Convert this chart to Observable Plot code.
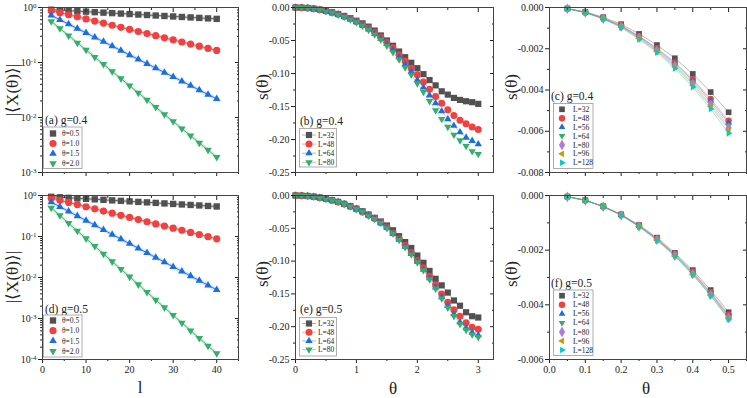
<!DOCTYPE html>
<html><head><meta charset="utf-8">
<script src="https://cdn.jsdelivr.net/npm/d3@7"></script>
<script src="https://cdn.jsdelivr.net/npm/@observablehq/plot@0.6"></script>
<style>
body{margin:0;background:#fff;}
#wrap{position:relative;width:747px;height:398px;font-family:"Liberation Serif","Times New Roman",serif;overflow:hidden;color:#222}
.pan{position:absolute}
.pan svg{overflow:visible;background:transparent}
.lab{position:absolute;font-size:17px;color:#222;white-space:nowrap;line-height:1}
</style></head><body><div id="wrap"></div><script>
// ---------- DATA ----------
const lVals = [2,4,6,8,10,12,14,16,18,20,22,24,26,28,30,32,34,36,38,40];
const thetaNames = ["θ=0.5","θ=1.0","θ=1.5","θ=2.0"];
const a_t05 = [0.910,0.892,0.874,0.857,0.840,0.823,0.807,0.791,0.775,0.760,0.745,0.730,0.715,0.701,0.687,0.673,0.660,0.647,0.634,0.621];
const a_t10 = [0.880,0.806,0.738,0.676,0.619,0.567,0.520,0.476,0.436,0.399,0.366,0.335,0.307,0.281,0.258,0.236,0.216,0.198,0.181,0.166];
const a_t15 = [0.720,0.599,0.498,0.415,0.345,0.287,0.239,0.199,0.165,0.137,0.114,0.0951,0.0791,0.0658,0.0548,0.0456,0.0379,0.0315,0.0262,0.0218];
const a_t20 = [0.560,0.415,0.308,0.228,0.169,0.125,0.0929,0.0689,0.0511,0.0379,0.0281,0.0208,0.0154,0.0114,0.00848,0.00629,0.00466,0.00345,0.00256,0.00190];
const d_t05 = [0.930,0.904,0.878,0.853,0.829,0.806,0.783,0.761,0.740,0.719,0.698,0.679,0.660,0.641,0.623,0.605,0.588,0.572,0.556,0.540];
const d_t10 = [0.860,0.763,0.676,0.600,0.532,0.472,0.418,0.371,0.329,0.292,0.259,0.229,0.203,0.180,0.160,0.142,0.126,0.112,0.0991,0.0879];
const d_t15 = [0.690,0.532,0.411,0.317,0.245,0.189,0.146,0.112,0.0866,0.0668,0.0516,0.0398,0.0307,0.0237,0.0183,0.0141,0.0109,0.00839,0.00647,0.00500];
const d_t20 = [0.500,0.325,0.211,0.137,0.0892,0.0580,0.0377,0.0245,0.0159,0.0104,0.00673,0.00438,0.00284,0.00185,0.00120,0.000781,0.000508,0.000330,0.000215,0.000140];

const thetaB = [0,0.1,0.2,0.3,0.4,0.5,0.6,0.7,0.8,0.9,1.0,1.1,1.2,1.3,1.4,1.5,1.6,1.7,1.8,1.9,2.0,2.1,2.2,2.3,2.4,2.5,2.6,2.7,2.8,2.9,3.0];
const L4Names = ["L=32","L=48","L=64","L=80"];
const b_L32 = [0,-0.0002,-0.0008,-0.0018,-0.0032,-0.005,-0.0072,-0.0098,-0.0128,-0.0162,-0.020,-0.024,-0.029,-0.035,-0.0424,-0.050,-0.058,-0.0667,-0.0753,-0.0838,-0.092,-0.101,-0.110,-0.118,-0.127,-0.132,-0.137,-0.140,-0.142,-0.1435,-0.146];
const b_L48 = [0,-0.0002,-0.0009,-0.0019,-0.0034,-0.0053,-0.0077,-0.0104,-0.0136,-0.0172,-0.0212,-0.026,-0.031,-0.038,-0.045,-0.0525,-0.061,-0.0717,-0.081,-0.092,-0.102,-0.113,-0.124,-0.135,-0.145,-0.155,-0.1636,-0.171,-0.176,-0.181,-0.185];
const b_L64 = [0,-0.0002,-0.0009,-0.002,-0.0035,-0.0055,-0.0079,-0.0107,-0.014,-0.0177,-0.022,-0.027,-0.033,-0.040,-0.047,-0.055,-0.064,-0.075,-0.086,-0.097,-0.110,-0.121,-0.133,-0.145,-0.157,-0.169,-0.179,-0.189,-0.197,-0.202,-0.207];
const b_L80 = [0,-0.0002,-0.0009,-0.002,-0.0036,-0.0056,-0.0081,-0.011,-0.0144,-0.0183,-0.0227,-0.028,-0.034,-0.041,-0.049,-0.058,-0.068,-0.079,-0.091,-0.102,-0.115,-0.128,-0.142,-0.156,-0.169,-0.181,-0.193,-0.2015,-0.210,-0.218,-0.222];
const e_L32 = [0,-0.0002,-0.0008,-0.0018,-0.0032,-0.005,-0.0072,-0.0098,-0.0128,-0.0162,-0.020,-0.024,-0.029,-0.034,-0.0396,-0.0457,-0.053,-0.062,-0.071,-0.080,-0.0915,-0.1026,-0.115,-0.127,-0.137,-0.148,-0.160,-0.168,-0.178,-0.184,-0.186];
const e_L48 = [0,-0.0002,-0.0008,-0.0018,-0.0033,-0.0051,-0.0074,-0.0100,-0.0131,-0.0166,-0.0205,-0.025,-0.030,-0.035,-0.041,-0.048,-0.057,-0.066,-0.076,-0.087,-0.099,-0.110,-0.123,-0.136,-0.150,-0.1626,-0.174,-0.184,-0.194,-0.201,-0.204];
const e_L64 = [0,-0.0002,-0.0008,-0.0018,-0.0033,-0.0052,-0.0075,-0.0101,-0.0132,-0.0167,-0.0207,-0.025,-0.030,-0.035,-0.042,-0.049,-0.058,-0.067,-0.078,-0.089,-0.101,-0.113,-0.126,-0.140,-0.155,-0.168,-0.181,-0.193,-0.202,-0.209,-0.213];
const e_L80 = [0,-0.0002,-0.0008,-0.0019,-0.0033,-0.0052,-0.0075,-0.0102,-0.0133,-0.0168,-0.0208,-0.025,-0.031,-0.036,-0.042,-0.050,-0.058,-0.068,-0.079,-0.090,-0.102,-0.114,-0.128,-0.142,-0.157,-0.171,-0.184,-0.196,-0.205,-0.212,-0.216];

const thetaC = [0.05,0.10,0.15,0.20,0.25,0.30,0.35,0.40,0.45,0.50];
const L7Names = ["L=32","L=48","L=56","L=64","L=80","L=96","L=128"];
const c_L32  = [-0.00005,-0.00021,-0.00047,-0.00081,-0.00128,-0.00182,-0.00246,-0.00322,-0.00410,-0.00508];
const c_L48  = [-0.00005,-0.00023,-0.00051,-0.00087,-0.00138,-0.00197,-0.00266,-0.00348,-0.00443,-0.00549];
const c_L56  = [-0.00006,-0.00023,-0.00052,-0.00089,-0.00141,-0.00200,-0.00271,-0.00354,-0.00451,-0.00559];
const c_L64  = [-0.00006,-0.00024,-0.00053,-0.00091,-0.00144,-0.00205,-0.00277,-0.00362,-0.00461,-0.00572];
const c_L80  = [-0.00006,-0.00024,-0.00054,-0.00093,-0.00147,-0.00209,-0.00283,-0.00370,-0.00472,-0.00584];
const c_L96  = [-0.00006,-0.00025,-0.00055,-0.00095,-0.00150,-0.00213,-0.00288,-0.00377,-0.00480,-0.00594];
const c_L128 = [-0.00006,-0.00025,-0.00056,-0.00097,-0.00154,-0.00218,-0.00295,-0.00386,-0.00492,-0.00610];
const f_L32  = [-0.00004,-0.00017,-0.00039,-0.00069,-0.00108,-0.00154,-0.00210,-0.00273,-0.00346,-0.00427];
const f_L48  = [-0.00004,-0.00017,-0.00040,-0.00070,-0.00110,-0.00157,-0.00214,-0.00279,-0.00353,-0.00436];
const f_L56  = [-0.00004,-0.00018,-0.00040,-0.00071,-0.00111,-0.00159,-0.00216,-0.00282,-0.00357,-0.00441];
const f_L64  = [-0.00004,-0.00018,-0.00040,-0.00071,-0.00112,-0.00160,-0.00218,-0.00284,-0.00360,-0.00444];
const f_L80  = [-0.00005,-0.00018,-0.00041,-0.00072,-0.00113,-0.00162,-0.00220,-0.00287,-0.00363,-0.00448];
const f_L96  = [-0.00005,-0.00018,-0.00041,-0.00072,-0.00113,-0.00163,-0.00221,-0.00289,-0.00365,-0.00451];
const f_L128 = [-0.00005,-0.00018,-0.00041,-0.00073,-0.00114,-0.00164,-0.00222,-0.00290,-0.00367,-0.00453];

// tick values
const xTicksL = [0,10,20,30,40], xMinorL = [5,15,25,35,45];
const xTicksB = [0,1,2,3], xMinorB = [0.5,1.5,2.5];
const xTicksC = [0,0.1,0.2,0.3,0.4,0.5], xMinorC = [0.05,0.15,0.25,0.35,0.45,0.55];
const yTicksB = [0,-0.05,-0.10,-0.15,-0.20,-0.25], yMinorB = [-0.025,-0.075,-0.125,-0.175,-0.225];
const yTicksC = [0,-0.002,-0.004,-0.006,-0.008], yMinorC = [-0.001,-0.003,-0.005,-0.007];
const yTicksF = [0,-0.002,-0.004,-0.006], yMinorF = [-0.001,-0.003,-0.005];
const logTicksA = [1,0.1,0.01,0.001];
const logTicksD = [1,0.1,0.01,0.001,0.0001];

// ---------- STYLE ----------
const COLORS = ["#515151","#F14040","#1A6FDF","#37AD6B","#B177DE","#CC9900","#00CBCC"];
const sqrt3 = Math.sqrt(3);
function tri(dir){ return {draw(ctx,size){ const s=Math.sqrt(size)*0.6824, t=s/2, u=s*sqrt3/2;
  if(dir==="down"){ctx.moveTo(0,s);ctx.lineTo(-u,-t);ctx.lineTo(u,-t);}
  else if(dir==="left"){ctx.moveTo(-s,0);ctx.lineTo(t,-u);ctx.lineTo(t,u);}
  else if(dir==="right"){ctx.moveTo(s,0);ctx.lineTo(-t,-u);ctx.lineTo(-t,u);}
  else {ctx.moveTo(0,-s);ctx.lineTo(-u,t);ctx.lineTo(u,t);}
  ctx.closePath(); }}; }
const SYMS = [d3.symbolSquare, d3.symbolCircle, tri("up"), tri("down"), d3.symbolDiamond, tri("left"), tri("right")];

function logMinor(decades){ const out=[]; decades.forEach(p=>{ for(let k=2;k<=9;k++) out.push(k*Math.pow(10,p)); }); return out; }

const wrap = document.getElementById("wrap");

function makePanel(c){
  const marks = [];
  c.series.forEach((ys,i)=>{
    const data = c.xs.map((x,j)=>({x, y: ys[j]}));
    if (c.halo) marks.push(Plot.line(data,{x:"x",y:"y",stroke:COLORS[i],strokeWidth:3.5,strokeOpacity:0.2}));
    marks.push(Plot.line(data,{x:"x",y:"y",stroke:COLORS[i],strokeWidth:c.lineW,strokeOpacity:c.lineOp}));
  });
  c.series.forEach((ys,i)=>{
    const data = c.xs.map((x,j)=>({x, y: ys[j]}));
    marks.push(Plot.dot(data,{x:"x",y:"y",symbol:SYMS[i],fill:COLORS[i],stroke:"none",r:c.r}));
  });
  const ax = {label:null};
  marks.push(
    Plot.axisX(c.xMajor,{...ax,anchor:"bottom",tickSize:4,tickPadding:2,tickFormat:c.xFmt,fill:c.showX?"currentColor":"none"}),
    Plot.axisX(c.xMinor,{...ax,anchor:"bottom",tickSize:2,fill:"none"}),
    Plot.axisX(c.xMajor,{...ax,anchor:"top",tickSize:-4,fill:"none"}),
    Plot.axisX(c.xMinor,{...ax,anchor:"top",tickSize:-2,fill:"none"}),
    Plot.axisY(c.yMajor,{...ax,anchor:"left",tickSize:4,tickPadding:2,tickFormat:c.yFmt}),
    Plot.axisY(c.yMinor,{...ax,anchor:"left",tickSize:2,fill:"none"}),
    Plot.axisY(c.yMajor,{...ax,anchor:"right",tickSize:-4,fill:"none"}),
    Plot.axisY(c.yMinor,{...ax,anchor:"right",tickSize:-2,fill:"none"}),
    Plot.frame({stroke:"#444"})
  );
  const svg = Plot.plot({
    width:c.width, height:c.height,
    marginTop:c.mt, marginBottom:c.mb, marginLeft:c.ml, marginRight:c.mr,
    x:{domain:c.xDomain, label:null},
    y:{domain:c.yDomain, type:c.yType||"linear", label:null},
    style:{fontFamily:'"Liberation Serif","Times New Roman",serif', fontSize:"10px", color:"#222", background:"transparent", overflow:"visible"},
    marks
  });
  d3.select(svg).selectAll("text").each(function(){
    const t=this.textContent;
    if(t.startsWith("10^")){ const e=t.slice(3); this.textContent="10"; d3.select(this).append("tspan").attr("dy","-0.45em").attr("font-size","0.7em").text(e); }
  });
  const L = c.legend, g = d3.select(svg).append("g").attr("text-anchor","start");
  g.append("text").attr("x",L.tx-c.left).attr("y",L.ty-c.top).attr("font-size",11.5).attr("fill","#222").text(L.title);
  g.append("rect").attr("x",L.bx-c.left).attr("y",L.by-c.top).attr("width",L.bw).attr("height",L.bh).attr("fill","white").attr("stroke","#9a9a9a").attr("stroke-width",0.8);
  L.names.forEach((nm,i)=>{
    const y = L.y0 + i*L.dy - c.top;
    if(L.line) g.append("line").attr("x1",L.sx-7-c.left).attr("x2",L.sx+7-c.left).attr("y1",y).attr("y2",y).attr("stroke",COLORS[i]).attr("stroke-opacity",0.45).attr("stroke-width",1);
    g.append("path").attr("transform",`translate(${L.sx-c.left},${y})`).attr("d",d3.symbol(SYMS[i], Math.PI*c.r*c.r)()).attr("fill",COLORS[i]);
    g.append("text").attr("x",L.lx-c.left).attr("y",y).attr("dy","0.35em").attr("font-size",L.fs).attr("fill","#222").text(nm);
  });
  const div = document.createElement("div");
  div.className="pan"; div.style.left=c.left+"px"; div.style.top=c.top+"px";
  div.appendChild(svg); wrap.appendChild(div);
}

const logFmt = d => "10^" + Math.round(Math.log10(d));
const col1 = {left:0, width:249, ml:42, mr:11, xDomain:[0,45], xMajor:xTicksL, xMinor:xMinorL, xFmt:d=>String(d), xs:lVals, yType:"log", yFmt:logFmt, halo:true, lineW:1, lineOp:0.9, r:3.6};
const col2 = {left:249, width:249, ml:46, mr:5, xDomain:[0,3.25], xMajor:xTicksB, xMinor:xMinorB, xFmt:d=>String(d), xs:thetaB, yDomain:[-0.25,0], yMajor:yTicksB, yMinor:yMinorB, yFmt:d=>d.toFixed(2), lineW:1, lineOp:0.35, r:3.5};
const col3 = {left:498, width:249, ml:51, mr:1, xDomain:[0,0.55], xMajor:xTicksC, xMinor:xMinorC, xFmt:d=>d.toFixed(1), xs:thetaC, yFmt:d=>d.toFixed(3), lineW:0.8, lineOp:0.5, r:3.2};
const rowTop = {top:0, height:185, mt:7, mb:13, showX:false};
const rowBot = {top:185, height:213, mt:10, mb:39, showX:true};

makePanel({...col1, ...rowTop, yDomain:[0.001,1], yMajor:logTicksA, yMinor:logMinor([-3,-2,-1]),
  series:[a_t05,a_t10,a_t15,a_t20],
  legend:{title:"(a) g=0.4", tx:45, ty:124, bx:43.5, by:127, bw:38.5, bh:41.5, names:thetaNames, y0:133.5, dy:10, sx:53, lx:62, fs:7.5}});
makePanel({...col1, ...rowBot, yDomain:[0.0001,1], yMajor:logTicksD, yMinor:logMinor([-4,-3,-2,-1]),
  series:[d_t05,d_t10,d_t15,d_t20],
  legend:{title:"(d) g=0.5", tx:45, ty:313, bx:43.5, by:315, bw:38.5, bh:42, names:thetaNames, y0:320.5, dy:10.2, sx:53, lx:62, fs:7.5}});
makePanel({...col2, ...rowTop, series:[b_L32,b_L48,b_L64,b_L80],
  legend:{title:"(b) g=0.4", tx:300, ty:125, bx:299.5, by:128.5, bw:37, bh:38.5, names:L4Names, y0:135, dy:9.1, sx:309, lx:318, fs:7.5, line:true}});
makePanel({...col2, ...rowBot, series:[e_L32,e_L48,e_L64,e_L80],
  legend:{title:"(e) g=0.5", tx:300, ty:313, bx:299.5, by:317.5, bw:37, bh:38.5, names:L4Names, y0:323.5, dy:8.7, sx:309, lx:318, fs:7.5, line:true}});
makePanel({...col3, ...rowTop, yDomain:[-0.008,0], yMajor:yTicksC, yMinor:yMinorC,
  series:[c_L32,c_L48,c_L56,c_L64,c_L80,c_L96,c_L128],
  legend:{title:"(c) g=0.4", tx:551, ty:100, bx:553.5, by:103.5, bw:39.5, bh:65, names:L7Names, y0:109.3, dy:8.9, sx:562, lx:573, fs:7.5}});
makePanel({...col3, ...rowBot, yDomain:[-0.006,0], yMajor:yTicksF, yMinor:yMinorF,
  series:[f_L32,f_L48,f_L56,f_L64,f_L80,f_L96,f_L128],
  legend:{title:"(f) g=0.5", tx:551, ty:287, bx:553.5, by:290, bw:39.5, bh:65.5, names:L7Names, y0:295.7, dy:9.05, sx:562, lx:573, fs:7.5}});

function lab(text, x, y, rot){
  const d=document.createElement("div"); d.className="lab"; d.textContent=text;
  d.style.left=x+"px"; d.style.top=y+"px";
  d.style.transform="translate(-50%,-50%)"+(rot?" rotate(-90deg)":"");
  wrap.appendChild(d);
}
lab("|⟨X(θ)⟩|", 12, 90, true);
lab("|⟨X(θ)⟩|", 12, 277, true);
lab("s(θ)", 262, 87, true);
lab("s(θ)", 262, 274, true);
lab("s(θ)", 511, 87, true);
lab("s(θ)", 511, 274, true);
lab("l", 140, 387, false);
lab("θ", 393, 388, false);
lab("θ", 646, 388, false);
</script></body></html>
